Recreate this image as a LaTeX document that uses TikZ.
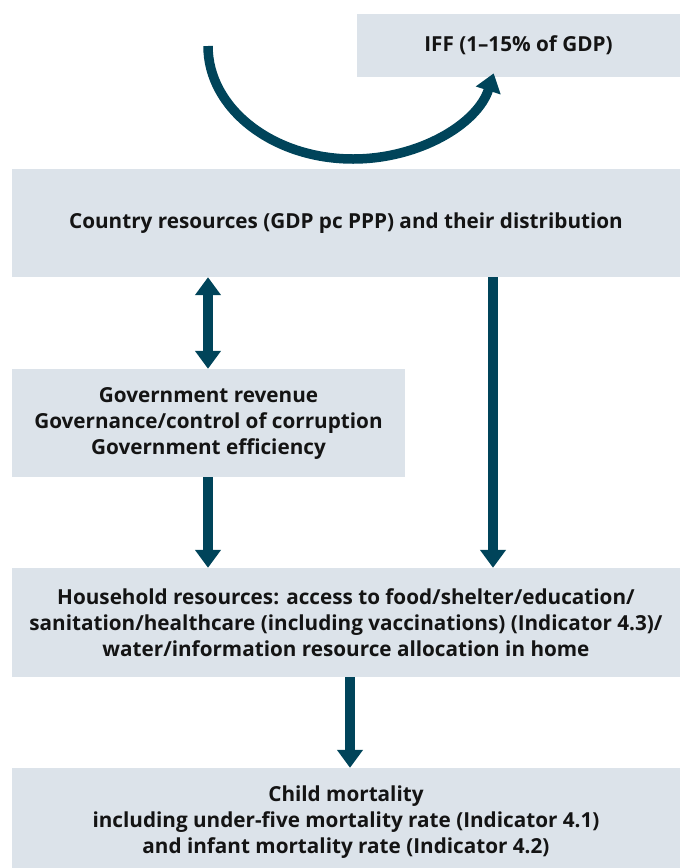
\documentclass[tikz,border=0pt]{standalone}
\usepackage{fontspec}
\setmainfont{Open Sans}
\usepackage{tikz}
\usetikzlibrary{arrows.meta}

\definecolor{boxgrey}{RGB}{220,227,234}
\definecolor{arrowteal}{RGB}{0,68,90}
\definecolor{inkblack}{RGB}{20,20,20}

\tikzset{
  infobox/.style={fill=boxgrey, draw=none, text=inkblack, align=center,
    font=\fontsize{20.7}{26}\selectfont\bfseries, inner sep=0pt},
  flowarrow/.style={draw=arrowteal, line width=9.5pt,
    -{Triangle[width=25pt,length=18pt]}},
  twoarrow/.style={draw=arrowteal, line width=9.5pt,
    {Triangle[width=25pt,length=18pt]}-{Triangle[width=25pt,length=18pt]}}
}

\begin{document}
\begin{tikzpicture}[x=1pt,y=-1pt]
	\clip (0,0) rectangle (680,868);
	\useasboundingbox (0,0) rectangle (680,868);

	\node[infobox, minimum width=323pt, minimum height=63pt] (iff) at (518.5,45.5) {IFF (1--15\% of GDP)};
	\node[infobox, minimum width=668pt, minimum height=108pt] (country) at (346,223) {Country resources (GDP pc PPP) and their distribution};
	\node[infobox, minimum width=393pt, minimum height=108pt] (gov) at (208.5,423) {Government revenue\\Governance/control of corruption\\Government efficiency};
	\node[infobox, minimum width=668pt, minimum height=109pt] (house) at (346,622.5) {Household resources: access to food/shelter/education/\\sanitation/healthcare (including vaccinations) (Indicator 4.3)/\\water/information resource allocation in home};
	\node[infobox, minimum width=668pt, minimum height=108pt] (child) at (346,822) {Child mortality\\including under-five mortality rate (Indicator 4.1)\\and infant mortality rate (Indicator 4.2)};

	% outflow loop
	\coordinate (loopstart) at (208,46);
	\draw[flowarrow] (loopstart) arc[start angle=180, end angle=346, x radius=145, y radius=-113];

	\draw[twoarrow] (country.south -| 208,0) -- (gov.north -| 208,0);
	\draw[flowarrow] (gov.south -| 208,0) -- (house.north -| 208,0);
	\draw[flowarrow] (country.south -| 493,0) -- (house.north -| 493,0);
	\draw[flowarrow] (house.south -| 350,0) -- (child.north -| 350,0);
\end{tikzpicture}
\end{document}
